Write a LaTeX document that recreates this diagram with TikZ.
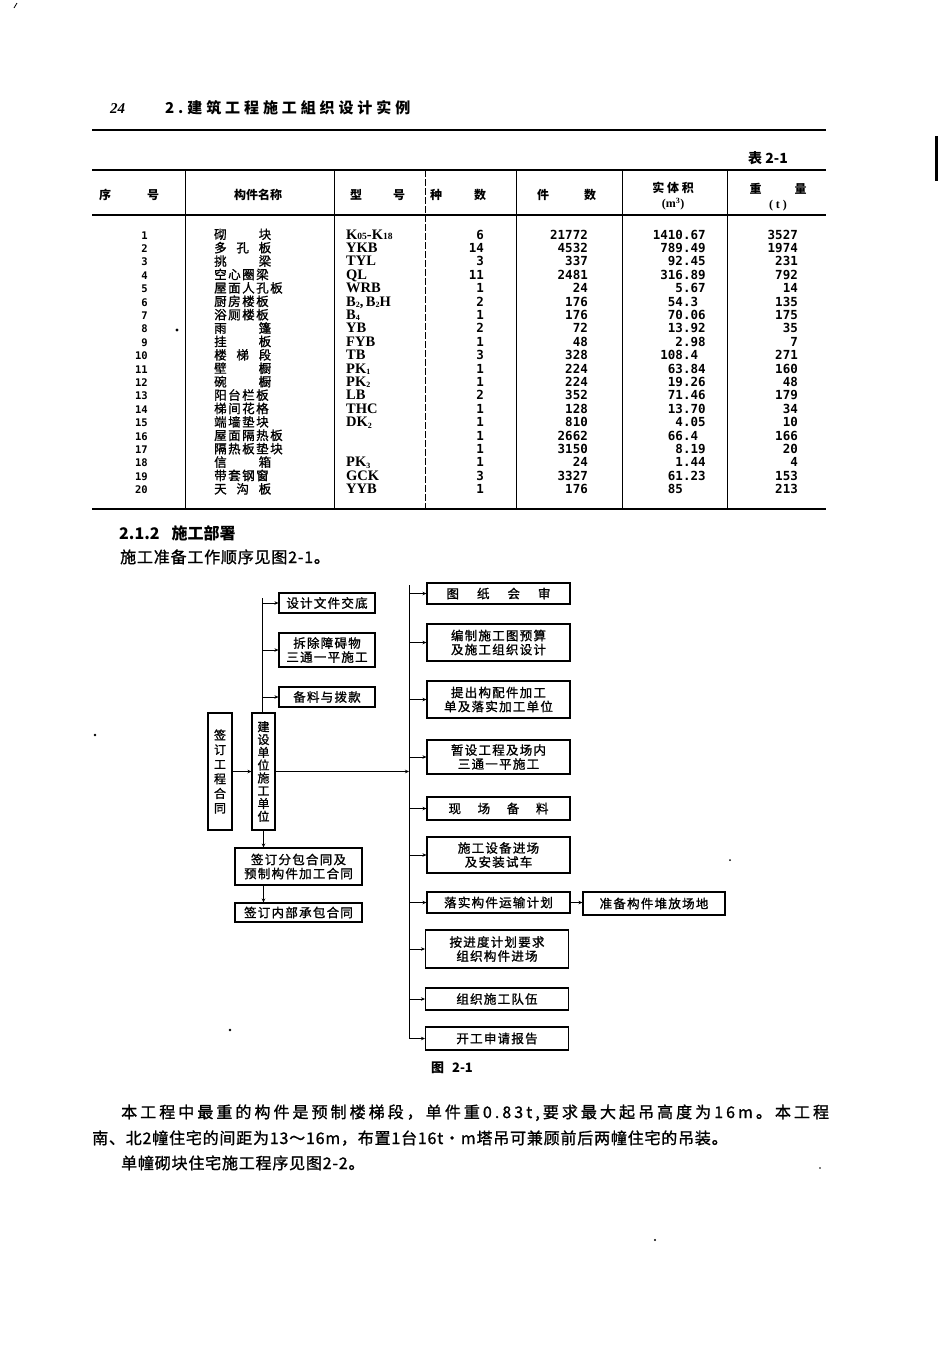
\documentclass[tikz,border=0pt]{standalone}
\usepackage{fontspec}
\usetikzlibrary{arrows.meta}
\setmainfont{Liberation Serif}
\newfontfamily\cjk{Noto Sans CJK SC}
\newfontfamily\cjkfb{Noto Sans CJK SC}[FakeBold=1.2]
\newfontfamily\cjksp{Noto Sans CJK SC}[LetterSpace=10, FakeBold=1.2]
\newfontfamily\cjkbody{Noto Sans CJK SC}[LetterSpace=5, FakeBold=1.2]
\newfontfamily\cjkname{Noto Sans CJK SC}[LetterSpace=12, FakeBold=1.2]
\newfontfamily\cjkwide{Noto Sans CJK SC}[LetterSpace=19, FakeBold=1.2]
\newfontfamily\cjkhead{Noto Sans CJK SC}[LetterSpace=26]
\newfontfamily\digits{DejaVu Sans Mono}
\newcommand\smdig[1]{{\fontsize{9.5}{9.5}\selectfont #1}}
\newcommand\lowidx[1]{\raisebox{-1.5pt}{\fontsize{8}{8}\selectfont #1}}

\tikzset{
  hd/.style={font=\cjk\bfseries\fontsize{12}{13}\selectfont, inner sep=0pt},
  num/.style={font=\digits\bfseries\fontsize{12.5}{13}\selectfont, inner sep=0pt},
  idx/.style={font=\digits\bfseries\fontsize{10.5}{11}\selectfont, inner sep=0pt, anchor=base east},
  part/.style={font=\cjkname\fontsize{12.5}{13}\selectfont, inner sep=0pt, anchor=base west},
  code/.style={font=\bfseries\fontsize{14.5}{14.5}\selectfont, inner sep=0pt, anchor=base west},
  box/.style={draw, line width=1.1pt, inner sep=0pt, minimum width=143pt, align=center,
    font=\cjksp\fontsize{12.5}{14}\selectfont},
  vbox/.style={box, minimum width=24pt, minimum height=117pt},
  arr/.style={-{Stealth[length=4pt,width=3.5pt]}, line width=0.8pt},
  body/.style={font=\cjkbody\fontsize{16}{18}\selectfont, inner sep=0pt, anchor=base west}
}

\begin{document}
\begin{tikzpicture}[x=1pt, y=-1pt]
    \fill[white] (0,0) rectangle (950,1345);
    \useasboundingbox (0,0) rectangle (950,1345);

    % running head
    \node[font=\bfseries\itshape\fontsize{15}{15}\selectfont, anchor=base west, inner sep=0pt] (pg) at (110,113) {24};
    \node[font=\cjkhead\bfseries\fontsize{15}{15}\selectfont, anchor=base west, inner sep=0pt] (chap) at (165,113) {2.建筑工程施工組织设计实例};
    \draw[line width=1.8pt] (92,130) -- (826,130);
    \draw[line width=3pt] (936,136) -- (936,181);

    % table 2-1
    \node[font=\cjk\bfseries\fontsize{14}{14}\selectfont, anchor=base west, inner sep=0pt] (tab) at (748,163) {表 2-1};
    \draw[line width=1.6pt] (92,170) -- (826,170);
    \draw[line width=1.3pt] (92,215) -- (826,215);
    \draw[line width=1.6pt] (92,509) -- (826,509);
    \foreach \x in {185,334,516,622,727}
        \draw[line width=0.6pt] (\x,170) -- (\x,509);
    \draw[line width=0.6pt, dash pattern=on 7pt off 2pt] (425,170) -- (425,509);

    \node[hd] (h1) at (105,195) {序};
    \node[hd] (h2) at (153,195) {号};
    \node[hd] (h3) at (258,195) {构件名称};
    \node[hd] (h4) at (356,195) {型};
    \node[hd] (h5) at (399,195) {号};
    \node[hd] (h6) at (436,195) {种};
    \node[hd] (h7) at (480,195) {数};
    \node[hd] (h8) at (543,195) {件};
    \node[hd] (h9) at (590,195) {数};
    \node[hd, align=center] (h10) at (673,196) {实 体 积\\[2pt]{\normalfont\bfseries (m\textsuperscript{3})}};
    \node[hd, align=center] (h11) at (778,197) {重\hspace{33pt}量\\[2pt]{\normalfont\bfseries ( t )}};

    \foreach \n/\nm/\tp/\kd/\pc/\vi/\vf/\wt in {
        1/砌\hfill 块/K\smdig{05}-K\smdig{18}/6/21772/1410/.67/3527,
        2/多\hfill 孔\hfill 板/YKB/14/4532/789/.49/1974,
        3/挑\hfill 梁/TYL/3/337/92/.45/231,
        4/空心圈梁/QL/11/2481/316/.89/792,
        5/屋面人孔板/WRB/1/24/5/.67/14,
        6/厨房楼板/{B\lowidx{2},\,B\lowidx{2}H}/2/176/54/.3/135,
        7/浴厕楼板/B\lowidx{4}/1/176/70/.06/175,
        8/雨\hfill 篷/YB/2/72/13/.92/35,
        9/挂\hfill 板/FYB/1/48/2/.98/7,
        10/楼\hfill 梯\hfill 段/TB/3/328/108/.4/271,
        11/壁\hfill 橱/PK\lowidx{1}/1/224/63/.84/160,
        12/碗\hfill 橱/PK\lowidx{2}/1/224/19/.26/48,
        13/阳台栏板/LB/2/352/71/.46/179,
        14/梯间花格/THC/1/128/13/.70/34,
        15/端墙垫块/DK\lowidx{2}/1/810/4/.05/10,
        16/屋面隔热板/{}/1/2662/66/.4/166,
        17/隔热板垫块/{}/1/3150/8/.19/20,
        18/信\hfill 箱/PK\lowidx{3}/1/24/1/.44/4,
        19/带套钢窗/GCK/3/3327/61/.23/153,
        20/天\hfill 沟\hfill 板/YYB/1/176/85/{}/213}
    {
        \pgfmathsetmacro\yb{239+(\n-1)*13.4}
        \node[idx] (n\n) at (148,\yb) {\n};
        \node[part] (p\n) at (214,\yb) {\makebox[57pt][s]{\nm}};
        \node[code] (t\n) at (346,\yb) {\tp};
        \node[num, anchor=base east] (k\n) at (484,\yb) {\kd};
        \node[num, anchor=base east] (c\n) at (588,\yb) {\pc};
        \node[num, anchor=base] (v\n) at (683,\yb) {\makebox[0pt][r]{\vi}\makebox[0pt][l]{\vf}};
        \node[num, anchor=base east] (w\n) at (798,\yb) {\wt};
    }
    \fill (177,330) circle (1.6pt);

    % 2.1.2
    \node[font=\cjk\bfseries\fontsize{16}{18}\selectfont, anchor=base west, inner sep=0pt] (sec) at (119,539) {2.1.2\hspace{12pt}施工部署};
    \node[body] (intro) at (120,563) {施工准备工作顺序见图2-1。};

    % fig 2-1
    \node[box, minimum width=96pt, minimum height=20pt] (dsgn) at (327,603) {设计文件交底};
    \node[box, minimum width=96pt, minimum height=34pt] (clr) at (327,650) {拆除障碍物\\三通一平施工};
    \node[box, minimum width=96pt, minimum height=20pt] (fund) at (327,697) {备料与拨款};
    \node[vbox, font=\cjkfb\fontsize{12}{14.6}\selectfont] (contr) at (220,771.5) {签\\订\\工\\程\\合\\同};
    \node[vbox, minimum width=23pt, font=\cjkfb\fontsize{12}{12.8}\selectfont] (unit) at (263.5,771.5) {建\\设\\单\\位\\施\\工\\单\\位};
    \node[box, minimum width=127pt, minimum height=37pt] (subc) at (298.5,866.5) {签订分包合同及\\预制构件加工合同};
    \node[box, minimum width=127pt, minimum height=19pt] (innr) at (298.5,912.5) {签订内部承包合同};

    \node[box, minimum height=21pt] (drw) at (498.5,593.5) {\makebox[104pt][s]{图\hfill 纸\hfill 会\hfill 审}};
    \node[box, minimum height=37pt] (bud) at (498.5,642.5) {编制施工图预算\\及施工组织设计};
    \node[box, minimum height=37pt] (prop) at (498.5,699.5) {提出构配件加工\\单及落实加工单位};
    \node[box, minimum height=34pt] (tmp) at (498.5,757) {暂设工程及场内\\三通一平施工};
    \node[box, minimum height=23pt] (mat) at (498.5,808.5) {\makebox[100pt][s]{现\hfill 场\hfill 备\hfill 料}};
    \node[box, minimum height=36pt] (eqp) at (498.5,855) {施工设备进场\\及安装试车};
    \node[box, minimum height=21pt] (trn) at (498.5,902.5) {落实构件运输计划};
    \node[box, minimum width=142pt, minimum height=23pt] (yard) at (654,903.5) {准备构件堆放场地};
    \node[box, minimum height=38pt] (sch) at (497,949) {按进度计划要求\\组织构件进场};
    \node[box, minimum height=22pt] (team) at (497,999) {组织施工队伍};
    \node[box, minimum height=23pt] (rpt) at (497,1038.5) {开工申请报告};

    \coordinate (ltop) at (262,598);
    \coordinate (rtop) at (409,585);
    \draw[line width=0.8pt] (ltop) -- (ltop |- unit.north);
    \foreach \b in {dsgn,clr,fund}
        \draw[arr] (ltop |- \b.west) -- (\b.west);
    \draw[arr] (contr.east) -- (unit.west);
    \draw[arr] (unit.south) -- (unit.south |- subc.north);
    \draw[arr] (unit.south |- subc.south) -- (unit.south |- innr.north);
    \draw[arr] (unit.east) -- (rtop |- unit.east);
    \draw[arr] (rtop) -- (rtop |- rpt.west) -- (rpt.west);
    \foreach \b in {drw,bud,prop,tmp,mat,eqp,trn,sch,team}
        \draw[arr] (rtop |- \b.west) -- (\b.west);
    \draw[arr] (trn.east) -- (trn.east -| yard.west);
    \node[font=\cjk\bfseries\fontsize{13}{13}\selectfont, inner sep=0pt] (cap) at (452,1068) {图\hspace{8pt}2-1};

    % text below
    \node[body, font=\cjkwide\fontsize{16}{18}\selectfont] (p1) at (121,1118) {本工程中最重的构件是预制楼梯段，单件重0.83t,要求最大起吊高度为16m。本工程};
    \node[body] (p2) at (92,1144) {南、北2幢住宅的间距为13～16m，布置1台16t·m塔吊可兼顾前后两幢住宅的吊装。};
    \node[body] (p3) at (121,1169) {单幢砌块住宅施工程序见图2-2。};

    \fill (95,735) circle (1.3pt);
    \fill (230,1030) circle (1.3pt);
    \fill (655,1240) circle (1.2pt);
    \fill (730,860) circle (1pt);
    \fill (820,1168) circle (0.8pt);
    \draw[line width=0.8pt] (14,8) -- (17,3);
\end{tikzpicture}
\end{document}
